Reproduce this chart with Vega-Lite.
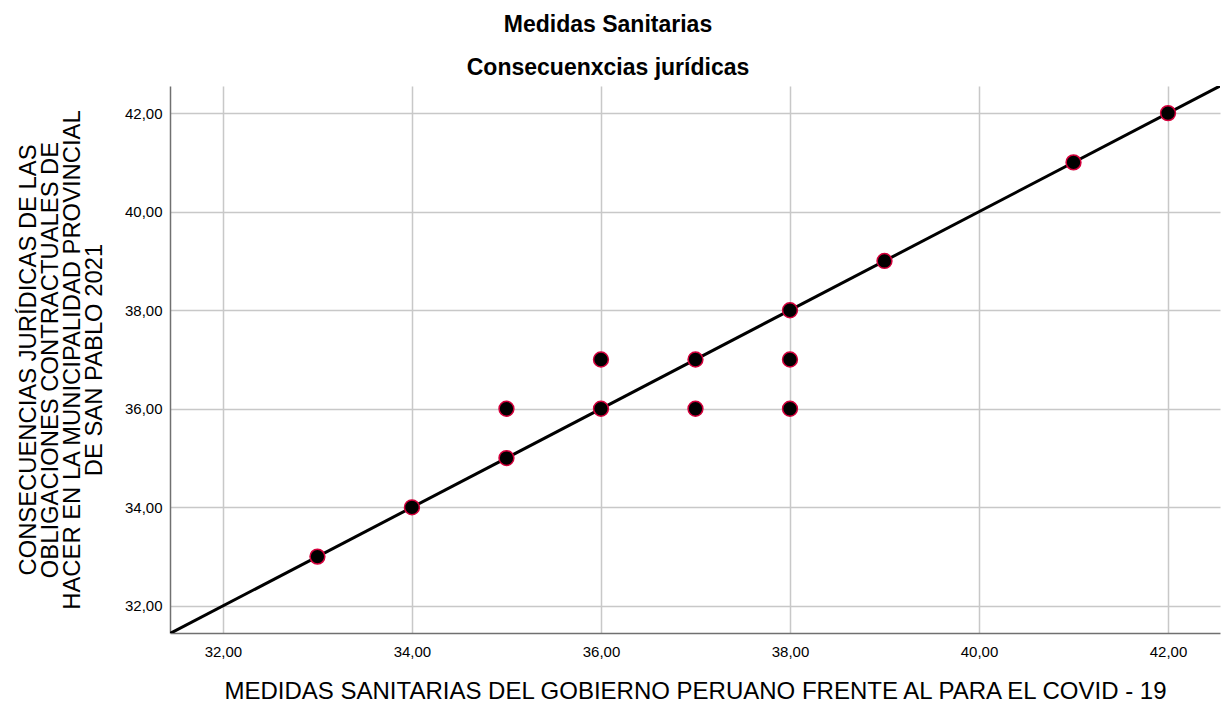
{
  "$schema": "https://vega.github.io/schema/vega-lite/v6.json",
  "autosize": {"type": "none"},
  "padding": {"left": 170, "top": 86, "right": 1, "bottom": 71},
  "width": 1050,
  "height": 547,
  "background": "white",
  "config": {
    "view": {"stroke": null},
    "font": "Liberation Sans"
  },
  "title": {
    "text": "Medidas Sanitarias",
    "subtitle": "Consecuenxcias jurídicas",
    "font": "Liberation Sans",
    "subtitleFont": "Liberation Sans",
    "fontSize": 23,
    "subtitleFontSize": 23,
    "fontWeight": "bold",
    "subtitleFontWeight": "bold",
    "color": "#000000",
    "subtitleColor": "#000000",
    "anchor": "middle",
    "frame": "group",
    "dx": -87,
    "offset": 6,
    "subtitlePadding": 20
  },
  "datasets": {
    "points": [
      {"medidas": 33, "consecuencias": 33},
      {"medidas": 34, "consecuencias": 34},
      {"medidas": 35, "consecuencias": 35},
      {"medidas": 35, "consecuencias": 36},
      {"medidas": 36, "consecuencias": 36},
      {"medidas": 36, "consecuencias": 37},
      {"medidas": 37, "consecuencias": 37},
      {"medidas": 37, "consecuencias": 36},
      {"medidas": 38, "consecuencias": 38},
      {"medidas": 38, "consecuencias": 37},
      {"medidas": 38, "consecuencias": 36},
      {"medidas": 39, "consecuencias": 39},
      {"medidas": 41, "consecuencias": 41},
      {"medidas": 42, "consecuencias": 42}
    ],
    "fit": [
      {"x1": 31, "y1": 31, "x2": 43, "y2": 43}
    ]
  },
  "layer": [
    {
      "data": {"name": "fit"},
      "mark": {"type": "rule", "color": "#000000", "strokeWidth": 3, "clip": true},
      "encoding": {
        "x": {"field": "x1", "type": "quantitative", "scale": {"domain": [31.44, 42.55], "nice": false, "zero": false}},
        "y": {"field": "y1", "type": "quantitative", "scale": {"domain": [31.45, 42.55], "nice": false, "zero": false}},
        "x2": {"field": "x2"},
        "y2": {"field": "y2"}
      }
    },
    {
      "data": {"name": "points"},
      "mark": {"type": "point", "shape": "circle", "filled": false, "fill": "#000000", "fillOpacity": 1, "stroke": "#d4003c", "strokeWidth": 1.5, "size": 220, "opacity": 1},
      "encoding": {
        "x": {
          "field": "medidas", "type": "quantitative",
          "scale": {"domain": [31.44, 42.55], "nice": false, "zero": false},
          "axis": {
            "title": "MEDIDAS SANITARIAS DEL GOBIERNO PERUANO FRENTE AL PARA EL COVID - 19",
            "values": [32, 34, 36, 38, 40, 42],
            "labelExpr": "replace(format(datum.value, '.2f'), '.', ',')",
            "grid": true, "gridColor": "#c8c8c8", "gridWidth": 1.5,
            "domainColor": "#707070", "domainWidth": 1.5,
            "ticks": false,
            "labelFont": "Liberation Sans", "labelFontSize": 15, "labelColor": "#000000", "labelPadding": 11,
            "titleFont": "Liberation Sans", "titleFontSize": 24, "titleFontWeight": 500, "titleColor": "#000000", "titlePadding": 20
          }
        },
        "y": {
          "field": "consecuencias", "type": "quantitative",
          "scale": {"domain": [31.45, 42.55], "nice": false, "zero": false},
          "axis": {
            "title": ["CONSECUENCIAS JURÍDICAS DE LAS", "OBLIGACIONES CONTRACTUALES DE", "HACER EN LA MUNICIPALIDAD PROVINCIAL", "DE SAN PABLO 2021"],
            "values": [32, 34, 36, 38, 40, 42],
            "labelExpr": "replace(format(datum.value, '.2f'), '.', ',')",
            "grid": true, "gridColor": "#c8c8c8", "gridWidth": 1.5,
            "domainColor": "#707070", "domainWidth": 1.5,
            "ticks": false,
            "labelFont": "Liberation Sans", "labelFontSize": 15, "labelColor": "#000000", "labelPadding": 8,
            "titleFont": "Liberation Sans", "titleFontSize": 23.8, "titleFontWeight": 500, "titleColor": "#000000", "titleLineHeight": 22, "titlePadding": 18
          }
        }
      }
    }
  ]
}
